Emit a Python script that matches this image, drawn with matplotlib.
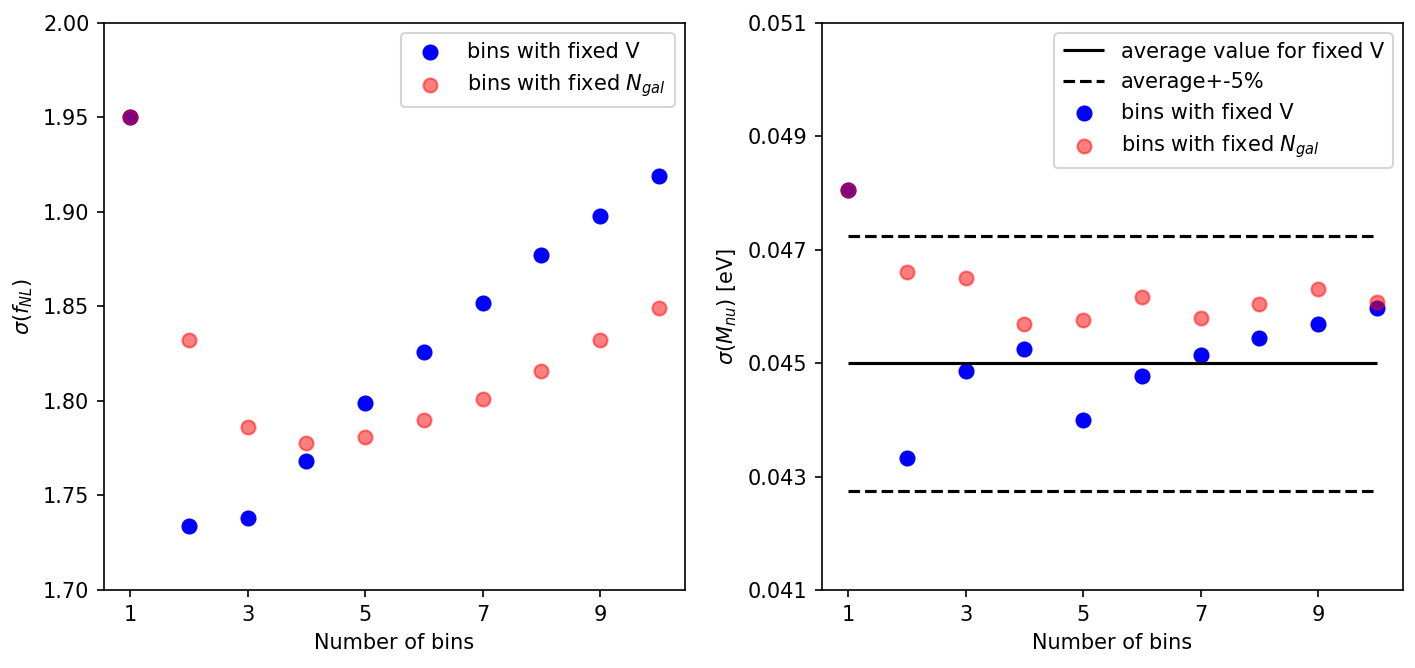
import numpy as np
import matplotlib
matplotlib.use("Agg")
import matplotlib.pyplot as plt

# number of redshift bins
n_bins = [1, 2, 3, 4, 5, 6, 7, 8, 9, 10]

# sigma(f_NL)
fnl_fixed_V = [1.950, 1.734, 1.738, 1.768, 1.799, 1.826, 1.852, 1.877, 1.898, 1.919]
fnl_fixed_Ngal = [1.950, 1.832, 1.786, 1.778, 1.781, 1.790, 1.801, 1.816, 1.832, 1.849]

# sigma(M_nu) [eV]
mnu_fixed_V = [0.04806, 0.04333, 0.04486, 0.04525, 0.04400, 0.04477, 0.04515, 0.04544, 0.04569, 0.04597]
mnu_fixed_Ngal = [0.04806, 0.04661, 0.04650, 0.04569, 0.04576, 0.04617, 0.04580, 0.04604, 0.04631, 0.04608]
mnu_avg_V = 0.04500

dpi = 150
fig = plt.figure(figsize=(1415 / dpi, 668 / dpi), dpi=dpi)
ax1 = fig.add_axes([0.0735, 0.1168, 0.4106, 0.8488])
ax2 = fig.add_axes([0.5809, 0.1168, 0.4106, 0.8488])

# left panel: f_NL
ax1.scatter(n_bins, fnl_fixed_V, s=45, color="blue", label="bins with fixed V")
ax1.scatter(n_bins, fnl_fixed_Ngal, s=45, color="red", alpha=0.5, label=r"bins with fixed $N_{gal}$")
ax1.set_ylim(1.70, 2.00)
ax1.set_xticks([1, 3, 5, 7, 9])
ax1.set_xlabel("Number of bins")
ax1.set_ylabel(r"$\sigma(f_{NL})$")
ax1.legend(loc="upper right")

# right panel: M_nu
ax2.hlines(mnu_avg_V, n_bins[0], n_bins[-1], color="black", label="average value for fixed V")
ax2.hlines(mnu_avg_V * 1.05, n_bins[0], n_bins[-1], color="black", linestyles="--", label="average+-5%")
ax2.hlines(mnu_avg_V * 0.95, n_bins[0], n_bins[-1], color="black", linestyles="--")
ax2.scatter(n_bins, mnu_fixed_V, s=45, color="blue", label="bins with fixed V")
ax2.scatter(n_bins, mnu_fixed_Ngal, s=45, color="red", alpha=0.5, label=r"bins with fixed $N_{gal}$")
ax2.set_ylim(0.041, 0.051)
ax2.set_yticks(np.arange(0.041, 0.0511, 0.002))
ax2.set_xticks([1, 3, 5, 7, 9])
ax2.set_xlabel("Number of bins")
ax2.set_ylabel(r"$\sigma(M_{nu})$ [eV]")
ax2.legend(loc="upper right")

fig.savefig("out.png", dpi=dpi)
